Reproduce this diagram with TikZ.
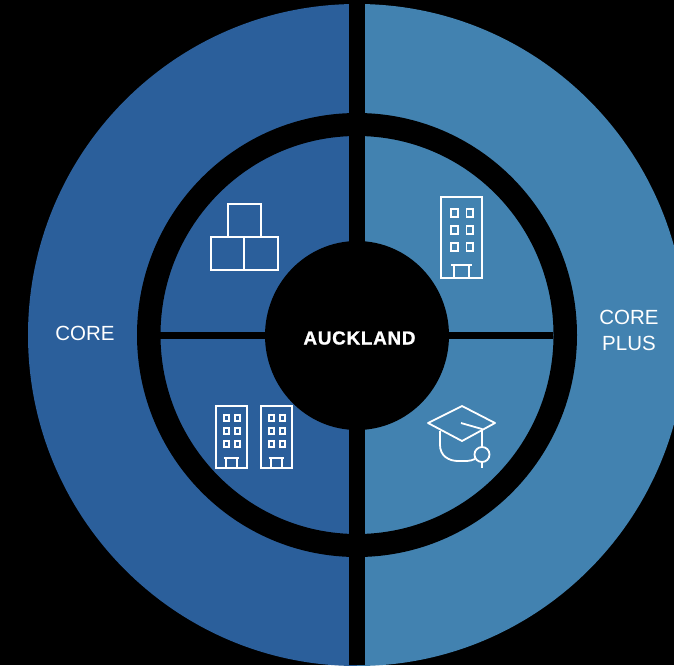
\documentclass[tikz,border=0pt]{standalone}
\usepackage{fontspec}
\setmainfont{Liberation Sans}
\newfontfamily\hubfont{Liberation Sans}[LetterSpace=3.8,BoldFeatures={FakeBold=0.9}]
\definecolor{coreblue}{HTML}{2B5F9B}
\definecolor{plusblue}{HTML}{4282B0}
\tikzset{
  icon/.style={white, line width=1.8pt},
  gap/.style={black, line width=7.6pt},
  label/.style={white, font=\fontsize{20.5}{26}\selectfont, align=center}
}
\newcommand{\towericon}[4]{%
\draw[icon] (#1,#2) rectangle (#1+#3,#4);
\foreach \wx in {0.25,0.62}{
  \foreach \wy in {0.15,0.36,0.57}{
    \draw[icon] ({#1+\wx*#3},{#2+\wy*(#4-#2)}) rectangle ({#1+(\wx+0.16)*#3},{#2+(\wy+0.095)*(#4-#2)});
  }
}
\draw[icon] ({#1+0.25*#3},{#2+0.84*(#4-#2)})--({#1+0.75*#3},{#2+0.84*(#4-#2)});
\draw[icon] ({#1+0.32*#3},#4)--({#1+0.32*#3},{#2+0.84*(#4-#2)});
\draw[icon] ({#1+0.68*#3},#4)--({#1+0.68*#3},{#2+0.84*(#4-#2)});
}
\begin{document}
\begin{tikzpicture}[x=1pt, y=-1pt]
\useasboundingbox (0,0) rectangle (674,665);
\fill[black] (0,0) rectangle (674,665);
\clip (0,0) rectangle (674,665);

% outer halves
\fill[coreblue] (357,4) arc[start angle=-90, end angle=-270, x radius=329, y radius=331]--cycle;
\fill[plusblue] (357,4) arc[start angle=-90, end angle=90, x radius=329, y radius=331]--cycle;

% ring and hub
\fill[black, even odd rule] (357,335) ellipse[x radius=220, y radius=222] (357,335) ellipse[x radius=196.5, y radius=199];
\fill[black] (349,0) rectangle (365,665);
\draw[gap] (160,335.5)--(553,335.5);
\fill[black] (357,335.5) ellipse[x radius=92, y radius=94.5];

\node[label] (core) at (85,333) {CORE};
\node[label] (coreplus) at (629,330) {CORE\\PLUS};
\node[white, font=\hubfont\bfseries\fontsize{18.9}{24}\selectfont] (auckland) at (359.5,338) {AUCKLAND};

% boxes
\draw[icon] (228,204) rectangle (261,237);
\draw[icon] (211,237) rectangle (244,270);
\draw[icon] (244,237) rectangle (278,270);

% buildings
\towericon{441}{197}{41}{278}
\towericon{216}{406}{31}{468}
\towericon{261}{406}{31}{468}

% cap
\draw[icon, line join=round] (462,406)--(495,423)--(462,441)--(428,423)--cycle;
\draw[icon, line join=round] (461,423)--(482,429)--(482,447);
\draw[icon] (482,454.5) circle[radius=7.5];
\draw[icon] (482,462)--(482,468);
\draw[icon] (440,431)--(440,445) .. controls (440,456) and (449,461) .. (458,461)--(467,461) .. controls (470,461) and (472,460) .. (475,459);
\end{tikzpicture}
\end{document}
